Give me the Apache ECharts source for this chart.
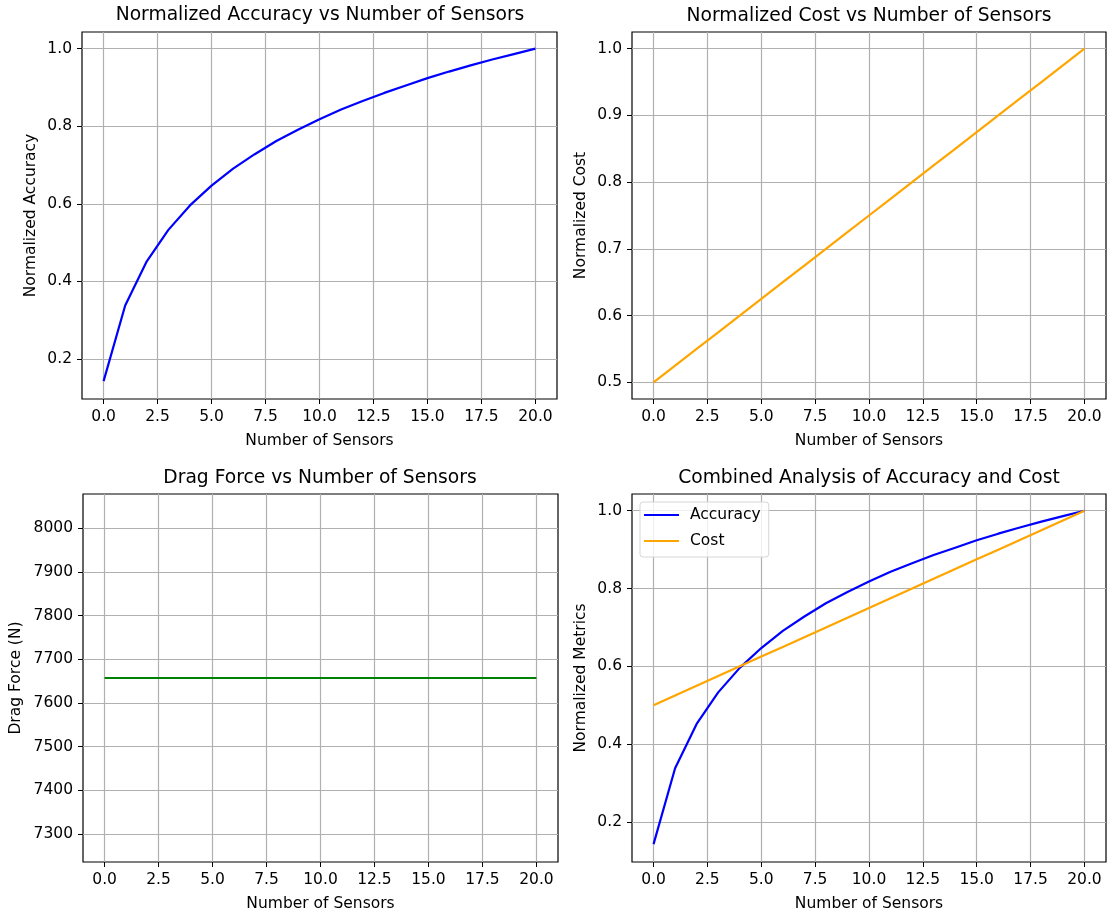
<!DOCTYPE html>
<html>
<head>
<meta charset="utf-8">
<title>Sensors analysis</title>
<script src="https://cdn.jsdelivr.net/npm/echarts@6/dist/echarts.min.js"></script>
<style>
  html, body { margin: 0; padding: 0; background: #fff; }
  #main { width: 1107px; height: 916px; }
</style>
</head>
<body>
<div id="main"></div>
<script>
// data
var sensors = [0, 1, 2, 3, 4, 5, 6, 7, 8, 9, 10, 11, 12, 13, 14, 15, 16, 17, 18, 19, 20];
var accuracy = [0.143, 0.338, 0.452, 0.533, 0.596, 0.647, 0.691, 0.728, 0.762, 0.791, 0.818,
  0.843, 0.865, 0.886, 0.905, 0.924, 0.941, 0.957, 0.972, 0.986, 1.0];
var cost = [0.5, 0.525, 0.55, 0.575, 0.6, 0.625, 0.65, 0.675, 0.7, 0.725, 0.75,
  0.775, 0.8, 0.825, 0.85, 0.875, 0.9, 0.925, 0.95, 0.975, 1.0];
var dragForce = [7657, 7657, 7657, 7657, 7657, 7657, 7657, 7657, 7657, 7657, 7657,
  7657, 7657, 7657, 7657, 7657, 7657, 7657, 7657, 7657, 7657];

// tick labels
var xTicks = [0, 2.5, 5, 7.5, 10, 12.5, 15, 17.5, 20];
var accTicks = [0.2, 0.4, 0.6, 0.8, 1.0];
var costTicks = [0.5, 0.6, 0.7, 0.8, 0.9, 1.0];
var dragTicks = [7300, 7400, 7500, 7600, 7700, 7800, 7900, 8000];

var FONT = 'DejaVu Sans';

function pairs(ys) {
  return sensors.map(function (x, i) { return [x, ys[i]]; });
}

function xAxis(idx) {
  return {
    type: 'value', gridIndex: idx, min: -1, max: 21,
    name: 'Number of Sensors', nameLocation: 'middle', nameGap: 34,
    nameTextStyle: { fontFamily: FONT, fontSize: 15.5, color: '#000' },
    axisLine: { show: false, onZero: false },
    axisTick: { show: true, length: 5, customValues: xTicks, lineStyle: { color: '#000', width: 1 } },
    axisLabel: {
      customValues: xTicks, margin: 10, fontFamily: FONT, fontSize: 15.5, color: '#000',
      formatter: function (v) { return v.toFixed(1); }
    },
    splitLine: { show: true, lineStyle: { color: '#b0b0b0', width: 1.2 } }
  };
}

function yAxis(idx, name, min, max, ticks, digits, gap) {
  return {
    type: 'value', gridIndex: idx, min: min, max: max,
    name: name, nameLocation: 'middle', nameGap: gap,
    nameTextStyle: { fontFamily: FONT, fontSize: 15.5, color: '#000' },
    axisLine: { show: false, onZero: false },
    axisTick: { show: true, length: 5, customValues: ticks, lineStyle: { color: '#000', width: 1 } },
    axisLabel: {
      customValues: ticks, margin: 10, fontFamily: FONT, fontSize: 15.5, color: '#000',
      formatter: function (v) { return v.toFixed(digits); }
    },
    splitLine: { show: true, lineStyle: { color: '#b0b0b0', width: 1.2 } }
  };
}

function title(text, x, y) {
  return {
    text: text, left: x, top: y, textAlign: 'center', padding: 0,
    textStyle: { fontFamily: FONT, fontSize: 18.7, fontWeight: 'normal', color: '#000' }
  };
}

function line(name, idx, ys, color) {
  return {
    name: name, type: 'line', xAxisIndex: idx, yAxisIndex: idx,
    data: pairs(ys), symbol: 'none', showSymbol: false,
    lineStyle: { color: color, width: 2.2 }, itemStyle: { color: color },
    animation: false
  };
}

var gridBox = { show: true, borderColor: '#000', borderWidth: 1.2, backgroundColor: 'transparent' };

var chart = echarts.init(document.getElementById('main'));
var option = {
  backgroundColor: '#fff',
  animation: false,
  title: [
    title('Normalized Accuracy vs Number of Sensors', 320, 6),
    title('Normalized Cost vs Number of Sensors', 869, 7),
    title('Drag Force vs Number of Sensors', 320, 469),
    title('Combined Analysis of Accuracy and Cost', 869, 469)
  ],
  grid: [
    Object.assign({ left: 82, top: 32, width: 475, height: 367 }, gridBox),
    Object.assign({ left: 632, top: 32, width: 474, height: 367 }, gridBox),
    Object.assign({ left: 83, top: 494, width: 475, height: 368 }, gridBox),
    Object.assign({ left: 632, top: 494, width: 474, height: 368 }, gridBox)
  ],
  xAxis: [xAxis(0), xAxis(1), xAxis(2), xAxis(3)],
  yAxis: [
    yAxis(0, 'Normalized Accuracy', 0.097, 1.043, accTicks, 1, 43),
    yAxis(1, 'Normalized Cost', 0.475, 1.025, costTicks, 1, 43),
    yAxis(2, 'Drag Force (N)', 7236, 8078, dragTicks, 0, 59),
    yAxis(3, 'Normalized Metrics', 0.097, 1.043, accTicks, 1, 43)
  ],
  legend: {
    data: [{ name: 'Accuracy', icon: 'rect' }, { name: 'Cost', icon: 'rect' }],
    orient: 'vertical', left: 640, top: 502,
    itemWidth: 35, itemHeight: 2.2, itemGap: 10,
    padding: [5, 8, 8, 4],
    backgroundColor: 'rgba(255,255,255,0.8)',
    borderColor: '#d6d6d6', borderWidth: 1, borderRadius: 3,
    textStyle: { fontFamily: FONT, fontSize: 15.5, color: '#000', padding: [0, 0, 0, 6] }
  },
  series: [
    line('Normalized Accuracy', 0, accuracy, '#0000ff'),
    line('Normalized Cost', 1, cost, '#ffa500'),
    line('Drag Force', 2, dragForce, '#008000'),
    line('Accuracy', 3, accuracy, '#0000ff'),
    line('Cost', 3, cost, '#ffa500')
  ]
};
chart.setOption(option);
</script>
</body>
</html>
